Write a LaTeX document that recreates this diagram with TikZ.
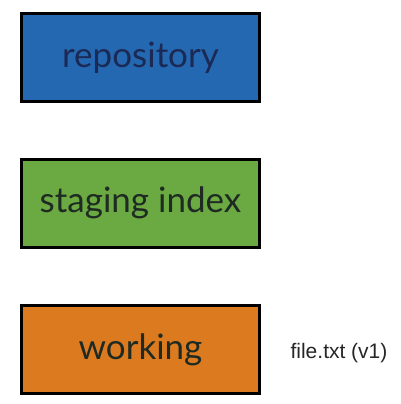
\documentclass[tikz,border=0pt]{standalone}
\usepackage{fontspec}
\setmainfont{Lato}
\newfontfamily\arialfont{Liberation Sans}
\definecolor{repoblue}{HTML}{2468B2}
\definecolor{stagegreen}{HTML}{6BAA42}
\definecolor{workorange}{HTML}{DC7A1F}
\definecolor{navytext}{HTML}{1B2A55}
\definecolor{darktext}{HTML}{1E2A22}
\begin{document}
\begin{tikzpicture}[x=1pt,y=-1pt,
  areabox/.style={draw=black, line width=3pt, minimum width=238pt, minimum height=88pt, inner sep=0pt, font=\fontsize{35}{40}\selectfont},
  filelabel/.style={font=\arialfont\fontsize{21}{24}\selectfont, text=black!85}]
\useasboundingbox (0,0) rectangle (400,404);
\node[areabox, fill=repoblue, text=navytext] (repo) at (140.5,57.5) {repository};
\node[areabox, fill=stagegreen, text=darktext] (stage) at (140.5,203) {staging index};
\node[areabox, fill=workorange, text=darktext] (work) at (140.5,349.5) {working};
\node[filelabel] (file) at (339,353) {file.txt (v1)};
\end{tikzpicture}
\end{document}
